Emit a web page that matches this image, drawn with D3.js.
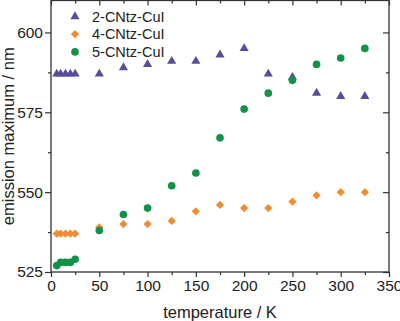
<!DOCTYPE html>
<html>
<head>
<meta charset="utf-8">
<script src="https://cdn.jsdelivr.net/npm/d3@7"></script>
<style>
  html, body { margin: 0; padding: 0; background: #fff; }
  svg { display: block; font-family: "Liberation Sans", Arial, sans-serif; }
</style>
</head>
<body>
<svg id="chart" width="400" height="321"></svg>
<script>
// temperatures (K) shared by all three series
const temps = [6, 10, 15, 20, 25, 50, 75, 100, 125, 150, 175, 200, 225, 250, 275, 300, 325];

// emission maxima (nm)
const cnTz2 = [587, 587, 587, 587, 587, 587, 589, 590, 591, 591, 593, 595, 587, 586, 581, 580, 580];
const cnTz4 = [537, 537, 537, 537, 537, 539, 540, 540, 541, 544, 546, 545, 545, 547, 549, 550, 550];
const cnTz5 = [527, 528, 528, 528, 529, 538, 543, 545, 552, 556, 567, 576, 581, 585, 590, 592, 595];

const seriesNames = ['2-CNtz-CuI', '4-CNtz-CuI', '5-CNtz-CuI'];
const seriesColors = ['#5b4b9d', '#f08c32', '#11914a'];

const xMajor = [0, 50, 100, 150, 200, 250, 300, 350];
const xMinor = [25, 75, 125, 175, 225, 275, 325];
const yMajor = [525, 550, 575, 600];
const yMinor = [537.5, 562.5, 587.5];

const svg = d3.select('#chart');
const pLeft = 51, pRight = 389, pTop = 0.5, pBottom = 272;

const x = d3.scaleLinear().domain([0, 350]).range([pLeft, pRight]);
const y = d3.scaleLinear().domain([525, 610]).range([pBottom, pTop]);

const axisColor = '#333';

// frame axes: bottom/left ticks out, top/right ticks in
function styleAxis(g) {
    g.selectAll('.domain').remove();
    g.selectAll('line').attr('stroke', axisColor).attr('stroke-width', 1.2);
    g.selectAll('text').attr('fill', '#222').style('font-size', '15.5px')
        .style('font-family', '"Liberation Sans", Arial, sans-serif');
}

svg.append('g').attr('transform', `translate(0,${pBottom})`)
    .call(d3.axisBottom(x).tickValues(xMajor).tickSize(5).tickPadding(3).tickFormat(d3.format('d')))
    .call(styleAxis);
svg.append('g').attr('transform', `translate(0,${pBottom})`)
    .call(d3.axisBottom(x).tickValues(xMinor).tickSize(3).tickFormat(''))
    .call(styleAxis);
svg.append('g').attr('transform', `translate(${pLeft},0)`)
    .call(d3.axisLeft(y).tickValues(yMajor).tickSize(6).tickPadding(2).tickFormat(d3.format('d')))
    .call(styleAxis);
svg.append('g').attr('transform', `translate(${pLeft},0)`)
    .call(d3.axisLeft(y).tickValues(yMinor).tickSize(3).tickFormat(''))
    .call(styleAxis);

svg.append('g').attr('transform', `translate(0,${pTop})`)
    .call(d3.axisTop(x).tickValues(xMajor).tickSize(-5).tickFormat(''))
    .call(styleAxis);
svg.append('g').attr('transform', `translate(0,${pTop})`)
    .call(d3.axisTop(x).tickValues(xMinor).tickSize(-3).tickFormat(''))
    .call(styleAxis);
svg.append('g').attr('transform', `translate(${pRight},0)`)
    .call(d3.axisRight(y).tickValues(yMajor).tickSize(-6).tickFormat(''))
    .call(styleAxis);
svg.append('g').attr('transform', `translate(${pRight},0)`)
    .call(d3.axisRight(y).tickValues(yMinor).tickSize(-3).tickFormat(''))
    .call(styleAxis);

svg.append('rect')
    .attr('x', pLeft).attr('y', pTop)
    .attr('width', pRight - pLeft).attr('height', pBottom - pTop)
    .attr('fill', 'none').attr('stroke', axisColor).attr('stroke-width', 1.3);

// markers (diamond = square turned 45°)
const symbols = [
    { path: d3.symbol().type(d3.symbolTriangle).size(36)(), rot: 0 },
    { path: d3.symbol().type(d3.symbolSquare).size(34)(), rot: 45 },
    { path: d3.symbol().type(d3.symbolCircle).size(46)(), rot: 0 },
];

[cnTz2, cnTz4, cnTz5].forEach((vals, i) => {
    svg.append('g').selectAll('path')
        .data(temps.map((t, j) => [t, vals[j]]))
        .join('path')
        .attr('d', symbols[i].path)
        .attr('transform', d => `translate(${x(d[0])},${y(d[1])}) rotate(${symbols[i].rot})`)
        .attr('fill', seriesColors[i]);
});

// legend
const legend = svg.append('g');
seriesNames.forEach((name, i) => {
    const ly = 16.5 + i * 17.7;
    legend.append('path')
        .attr('d', symbols[i].path)
        .attr('transform', `translate(75,${ly}) rotate(${symbols[i].rot})`)
        .attr('fill', seriesColors[i]);
    legend.append('text')
        .attr('x', 92).attr('y', ly + 5)
        .attr('fill', '#222')
        .style('font-size', '14.5px')
        .text(name);
});

// axis titles
svg.append('text')
    .attr('x', (pLeft + pRight) / 2).attr('y', 318)
    .attr('text-anchor', 'middle')
    .attr('fill', '#222')
    .style('font-size', '16.5px')
    .text('temperature / K');

svg.append('text')
    .attr('transform', `translate(13.5,${(pTop + pBottom) / 2}) rotate(-90)`)
    .attr('text-anchor', 'middle')
    .attr('fill', '#222')
    .style('font-size', '16.5px')
    .text('emission maximum / nm');
</script>
</body>
</html>
